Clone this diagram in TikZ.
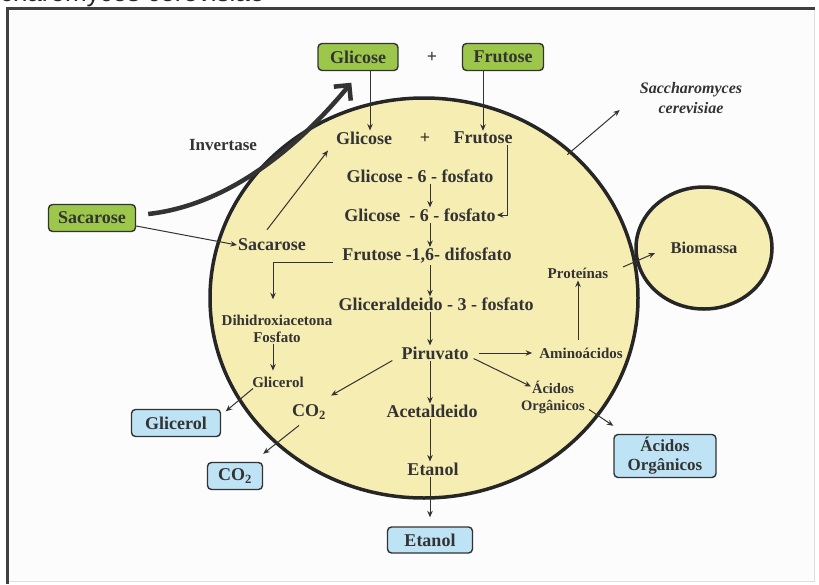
\documentclass[tikz,border=0pt]{standalone}
\usepackage{fontspec}
\setmainfont{Liberation Serif}
\setsansfont{Liberation Sans}
\usetikzlibrary{arrows.meta,shapes.geometric}

\definecolor{ink}{HTML}{333333}
\definecolor{cellfill}{HTML}{F6EDB3}
\definecolor{inleaf}{HTML}{9DC74A}
\definecolor{outsky}{HTML}{BEE3F5}

\begin{document}
\begin{tikzpicture}[
    x = 1pt,
    y = -1pt,
    >={Stealth[length=6.5pt,width=5.5pt]},
    every node/.style = {text=ink},
    met/.style = {font=\bfseries\fontsize{18}{20}\selectfont, inner sep=1pt},
    minor/.style = {font=\bfseries\fontsize{15}{16.5}\selectfont, inner sep=1pt,
              align=center},
    inbox/.style = {met, draw=ink, line width=1.4pt, rounded corners=4pt,
              fill=inleaf, minimum height=27pt},
    outbox/.style = {inbox, fill=outsky},
    flow/.style = {->, draw=ink, line width=1pt},
    wall/.style = {ellipse, draw=black!85, line width=3.5pt, fill=cellfill,
              inner sep=0pt},
    ]

\useasboundingbox (0,0) rectangle (819,584);
\fill[white] (0,0) rectangle (819,584);
\filldraw[fill=gray!2, draw=gray!25, line width=1pt] (7,8) rectangle (814,581);
\draw[black!75, line width=3pt] (7,584) -- (7,8) -- (815,8);
\begin{scope}
\clip (0,0) rectangle (819,584);
\node[font=\sffamily\fontsize{26}{28}\selectfont, anchor=base east, text=black!85] (caption) at (268,1) {Saccharomyces cerevisiae};
\end{scope}

% cell and biomass
\node[wall, minimum width=428pt, minimum height=400pt] (cell) at (424,298) {};
\node[wall, met, font=\bfseries\fontsize{16.5}{18}\selectfont, minimum width=136pt, minimum height=122pt] (biomass) at (704,248) {Biomassa};
\coordinate (spine) at (430,0);
\coordinate (side) at (273,0);

% outside
\node[inbox, minimum width=80pt] (glcout) at (358,57) {Glicose};
\node[met] (plusout) at (432,57) {+};
\node[inbox, minimum width=81pt] (fruout) at (503,57) {Frutose};
\node[inbox, minimum width=87pt] (sacout) at (92,218) {Sacarose};
\node[met, font=\bfseries\fontsize{17}{19}\selectfont] (inv) at (223,145) {Invertase};
\node[met, font=\bfseries\itshape\fontsize{16}{20}\selectfont, align=center] (yeast) at (691,98) {Saccharomyces\\cerevisiae};

\node[outbox, minimum width=89pt] (glycout) at (176,423) {Glicerol};
\node[outbox, minimum width=55pt] (co2out) at (235,476) {CO\textsubscript{2}};
\node[outbox, minimum width=85pt, minimum height=26pt] (ethout) at (430,540) {Etanol};
\node[outbox, align=center, font=\bfseries\fontsize{17}{19}\selectfont, minimum width=102pt, minimum height=43pt] (acidsout) at (665,456) {Ácidos\\Orgânicos};

% inside
\node[met] (glc) at (364,138) {Glicose};
\node[met] (plus) at (425,138) {+};
\node[met] (fru) at (483,138) {Frutose};
\node[met] (g6p) at (420,176) {Glicose - 6 - fosfato};
\node[met] (f6p) at (420,215) {Glicose\ \ - 6 - fosfato};
\node[met] (f16) at (427,256) {Frutose -1,6- difosfato};
\node[met] (g3p) at (436,304) {Gliceraldeido - 3 - fosfato};
\node[met] (pyr) at (435,353) {Piruvato};
\node[met] (acet) at (432,411) {Acetaldeido};
\node[met] (eth) at (433,469) {Etanol};
\node[met] (sac) at (272,245) {Sacarose};
\node[minor] (dhap) at (277,329) {Dihidroxiacetona\\Fosfato};
\node[minor] (glyc) at (278,382) {Glicerol};
\node[met] (co2) at (309,412) {CO\textsubscript{2}};
\node[minor] (amino) at (581,353) {Aminoácidos};
\node[minor] (prot) at (578,273) {Proteínas};
\node[minor, font=\bfseries\fontsize{14.5}{17}\selectfont] (acids) at (553,397) {Ácidos\\Orgânicos};

% invertase
\draw[draw=ink, line width=4.5pt, -{Straight Barb[length=11pt,width=22pt]}]
    ([shift={(12pt,4pt)}]sacout.east) .. controls (230,205) and (300,145) .. ([shift={(34pt,-11.5pt)}]glcout.south west);

% arrows
\draw[flow] ([xshift=12pt]glcout.south) -- ([xshift=6pt]glc.north);
\draw[flow] (fruout.south -| fru) -- (fru);
\draw[flow] ([yshift=-8pt]sacout.east) -- (sac.west);
\draw[flow] ([shift={(-5pt,8pt)}]sac.north) -- ([shift={(-36pt,-5pt)}]glc.south);
\draw[flow] ([xshift=24pt]fru.south) |- (f6p.east);
\draw[flow] (g6p.south -| spine) -- (f6p.north -| spine);
\draw[flow] (f6p.south -| spine) -- (f16.north -| spine);
\draw[flow] (f16.south -| spine) -- (g3p.north -| spine);
\draw[flow] (g3p.south -| spine) -- (pyr.north -| spine);
\draw[flow] (pyr.south -| spine) -- (acet.north -| spine);
\draw[flow] (acet.south -| spine) -- (eth.north -| spine);
\draw[flow, shorten >=9pt] (eth.south -| spine) -- (ethout.north -| spine);
\draw[flow, shorten >=15pt] ([shift={(-8pt,-6pt)}]f16.west) -| (dhap.north -| side);
\draw[flow, shorten >=5pt] (dhap.south -| side) -- (glyc.north -| side);
\draw[flow] ([xshift=-25pt]glyc.south) -- ([shift={(4.5pt,-2.5pt)}]glycout.north east);
\draw[flow] ([xshift=-8pt]pyr.south west) -- ([shift={(4pt,8pt)}]co2.north east);
\draw[flow] ([shift={(-10pt,-5pt)}]co2.south) -- ([yshift=8pt]co2out.north east);
\draw[flow, shorten <=9pt, shorten >=6pt] (pyr.east) -- (amino.west);
\draw[flow] ([shift={(4pt,2pt)}]pyr.south east) -- ([shift={(11pt,-7pt)}]acids.north west);
\draw[flow, shorten <=7pt, shorten >=1pt] (amino.north -| prot) -- (prot);
\draw[flow] ([shift={(13.5pt,6pt)}]prot.east) -- ([shift={(-49pt,-5pt)}]biomass.center);
\draw[flow] ([shift={(3pt,5pt)}]acids.south east) -- ([yshift=8pt]acidsout.north west);
\draw[flow] ([shift={(-4pt,-4pt)}]cell.45) -- ([shift={(-19pt,-12pt)}]yeast.west);

\end{tikzpicture}
\end{document}
